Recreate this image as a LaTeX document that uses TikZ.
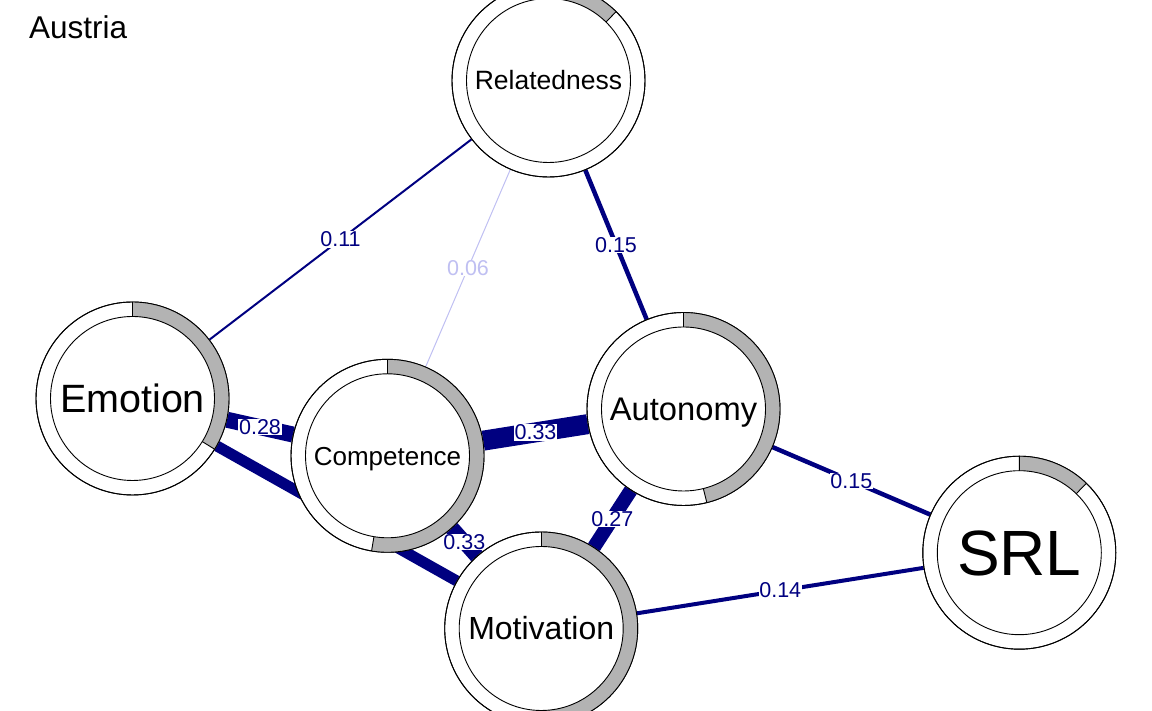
\documentclass[tikz,border=0pt]{standalone}
\usepackage{fontspec}
\setmainfont{Liberation Sans}
\usetikzlibrary{calc}
\pgfdeclarelayer{background}
\pgfsetlayers{background,main}
\definecolor{edgeblue}{HTML}{000080}
\definecolor{edgelight}{HTML}{BFBFF2}
\definecolor{piegray}{HTML}{B3B3B3}
\tikzset{
  vert/.style={circle,draw=black,fill=white,line width=0.9pt,minimum size=193pt,inner sep=0pt,text depth=0pt},
  edg/.style={draw=edgeblue,line cap=butt},
  elab/.style={midway,fill=white,inner sep=0.6pt,text=edgeblue,font=\fontsize{21.5}{21.5}\selectfont},
  ring/.style={line width=0.9pt,draw=black},
}
\begin{document}
\begin{tikzpicture}[x=1pt,y=1pt]
\useasboundingbox (0,0) rectangle (1152,711);
\clip (0,0) rectangle (1152,711);
% nodes
\node[vert,font=\fontsize{26.5}{26.5}\selectfont,text height=19pt] (R) at (548.5,630.5) {Relatedness};
\node[vert,font=\fontsize{39.5}{39.5}\selectfont,text height=28.3pt] (E) at (132.5,312.5) {Emotion};
\node[vert,font=\fontsize{26}{26}\selectfont,text height=18.6pt] (C) at (387.5,255.2) {Competence};
\node[vert,font=\fontsize{32.7}{32.7}\selectfont,text height=23.4pt] (A) at (683.5,302) {Autonomy};
\node[vert,font=\fontsize{64}{64}\selectfont,text height=45.8pt] (S) at (1019.3,158.3) {SRL};
\node[vert,font=\fontsize{32}{32}\selectfont,text height=22.9pt] (M) at (541.2,82.5) {Motivation};
% pies
\foreach \n/\e in {R/45.5, E/-31.7, C/-99.5, A/-76, S/46, M/-90}{
  \begin{scope}[shift={(\n)}]
    \fill[piegray] (90:96.5pt) arc[start angle=90,end angle=\e,radius=96.5pt] -- (\e:82pt) arc[start angle=\e,end angle=90,radius=82pt] -- cycle;
    \draw[ring] (0,0) circle[radius=96.5pt];
    \draw[ring] (0,0) circle[radius=82pt];
    \draw[ring] (90:82pt) -- (90:96.5pt) (\e:82pt) -- (\e:96.5pt);
  \end{scope}
}
% edges
\begin{pgfonlayer}{background}
\draw[edg,line width=11pt] (E) -- (M);
\draw[edg,line width=2pt] (R) -- (E) node[elab]{0.11};
\draw[draw=edgelight,line width=1pt] (R) -- (C) node[elab,text=edgelight]{0.06};
\draw[edg,line width=4.5pt] (R) -- (A) node[elab]{0.15};
\draw[edg,line width=16pt] (E) -- (C) node[elab]{0.28};
\draw[edg,line width=20pt] (C) -- (A) node[elab]{0.33};
\draw[edg,line width=15pt] (C) -- (M) node[elab]{0.33};
\draw[edg,line width=14pt] (A) -- (M) node[elab]{0.27};
\draw[edg,line width=4.5pt] (A) -- (S) node[elab]{0.15};
\draw[edg,line width=4pt] (M) -- (S) node[elab]{0.14};
\end{pgfonlayer}
% title
\node[anchor=base west,inner sep=0pt,font=\fontsize{31.5}{31.5}\selectfont] (title) at (29,672) {Austria};
\end{tikzpicture}
\end{document}
